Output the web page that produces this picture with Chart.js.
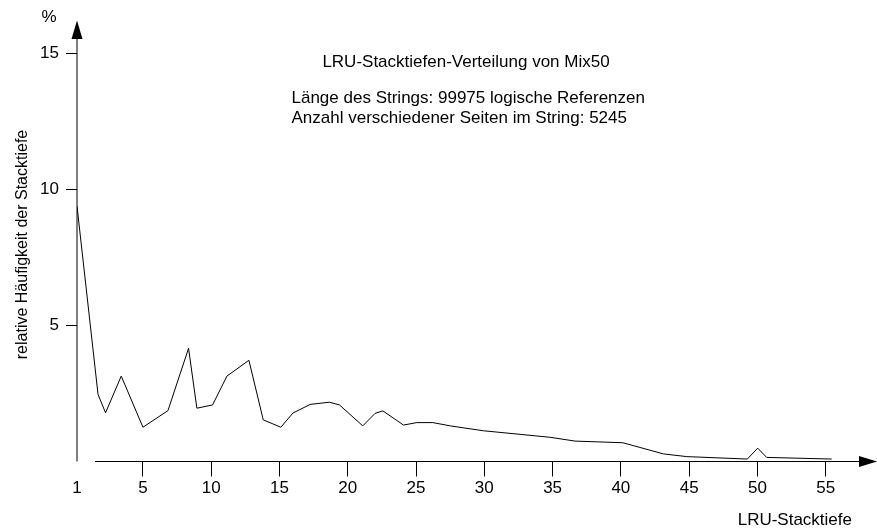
<!DOCTYPE html>
<html>
<head>
<meta charset="utf-8">
<script src="https://cdn.jsdelivr.net/npm/chart.js@4"></script>
<style>
  body { margin: 0; background: #fff; }
  canvas { display: block; }
</style>
</head>
<body>
<canvas id="lru-chart" width="877" height="531"></canvas>
<script>
// stack depth positions (first point sits on the y axis = depth "1")
const depths = [0.17, 1.71, 2.26, 3.41, 5.0, 6.83, 8.34, 8.95, 10.1, 11.15, 12.76, 13.81, 15.1, 15.98,
  17.25, 18.66, 19.39, 21.1, 22.0, 22.57, 24.08, 25.06, 26.23, 27.5, 29.93, 34.82, 36.65, 40.14,
  43.11, 44.82, 49.26, 50.02, 50.68, 55.44];
// relative frequency in %
const freq = [9.39, 2.47, 1.79, 3.14, 1.26, 1.87, 4.16, 1.96, 2.08, 3.14, 3.72, 1.53, 1.26, 1.78,
  2.10, 2.18, 2.08, 1.31, 1.77, 1.86, 1.34, 1.43, 1.43, 1.31, 1.13, 0.89, 0.75, 0.69,
  0.28, 0.18, 0.09, 0.49, 0.15, 0.09];

const xTickValues = [0.17, 5, 10, 15, 20, 25, 30, 35, 40, 45, 50, 55];
const xTickLabels = ["1", "5", "10", "15", "20", "25", "30", "35", "40", "45", "50", "55"];
const yTickValues = [5, 10, 15];

const FONT = "'Liberation Sans', Arial, Helvetica, sans-serif";

const decorations = {
  id: "decorations",
  afterDraw(chart) {
    const ctx = chart.ctx;
    const area = chart.chartArea;
    const W = chart.width;
    ctx.save();
    ctx.strokeStyle = "#000";
    ctx.fillStyle = "#000";
    ctx.lineWidth = 1;

    // y axis with arrow
    ctx.beginPath();
    ctx.moveTo(area.left, area.bottom);
    ctx.lineTo(area.left, 39);
    ctx.stroke();
    ctx.beginPath();
    ctx.moveTo(area.left, 20.5);
    ctx.lineTo(area.left - 5.5, 39);
    ctx.lineTo(area.left + 5.5, 39);
    ctx.closePath();
    ctx.fill();

    // x axis with arrow (starts a bit right of the y axis)
    ctx.beginPath();
    ctx.moveTo(95, area.bottom);
    ctx.lineTo(W - 18, area.bottom);
    ctx.stroke();
    ctx.beginPath();
    ctx.moveTo(W, area.bottom);
    ctx.lineTo(W - 18, area.bottom - 5.5);
    ctx.lineTo(W - 18, area.bottom + 5.5);
    ctx.closePath();
    ctx.fill();

    // texts
    ctx.textBaseline = "alphabetic";
    ctx.font = "17px " + FONT;
    ctx.textAlign = "center";
    ctx.fillText("%", 49, 21.5);
    ctx.fillText("LRU-Stacktiefen-Verteilung von Mix50", 466, 66.5);
    ctx.textAlign = "left";
    ctx.fillText("Länge des Strings: 99975 logische Referenzen", 291.5, 103.3);
    ctx.fillText("Anzahl verschiedener Seiten im String: 5245", 291.5, 123.3);
    ctx.textAlign = "right";
    ctx.fillText("LRU-Stacktiefe", 852, 525);

    ctx.font = "16px " + FONT;
    ctx.translate(27, 244.5);
    ctx.rotate(-Math.PI / 2);
    ctx.textAlign = "center";
    ctx.fillText("relative Häufigkeit der Stacktiefe", 0, 0);
    ctx.restore();
  }
};

new Chart(document.getElementById("lru-chart"), {
  type: "line",
  data: {
    datasets: [
      {
        data: depths.map((d, i) => ({ x: d, y: freq[i] })),
        borderColor: "#000",
        borderWidth: 1,
        pointRadius: 0,
        tension: 0,
        fill: false,
      },
    ],
  },
  options: {
    responsive: false,
    animation: false,
    devicePixelRatio: 1,
    layout: { padding: { top: 53.5, right: 24, bottom: 0, left: 0 } },
    plugins: { legend: { display: false }, tooltip: { enabled: false } },
    scales: {
      x: {
        type: "linear",
        min: 0.17,
        max: 57,
        afterFit: (s) => { s.height = 69.5; },
        afterBuildTicks: (s) => { s.ticks = xTickValues.map((v) => ({ value: v })); },
        border: { display: false },
        grid: {
          drawOnChartArea: false,
          tickLength: 15,
          tickColor: (c) => (c.index === 0 ? "rgba(0,0,0,0)" : "#000"),
        },
        ticks: {
          callback: (v, i) => xTickLabels[i],
          color: "#000",
          font: { family: FONT, size: 17 },
          padding: 2,
          maxRotation: 0,
          autoSkip: false,
        },
      },
      y: {
        min: 0,
        max: 15,
        afterFit: (s) => { s.width = 77; },
        afterBuildTicks: (s) => { s.ticks = yTickValues.map((v) => ({ value: v })); },
        border: { display: false },
        grid: { drawOnChartArea: false, tickLength: 11, tickColor: "#000" },
        ticks: {
          color: "#000",
          font: { family: FONT, size: 17 },
          padding: 7,
        },
      },
    },
  },
  plugins: [decorations],
});
</script>
</body>
</html>
